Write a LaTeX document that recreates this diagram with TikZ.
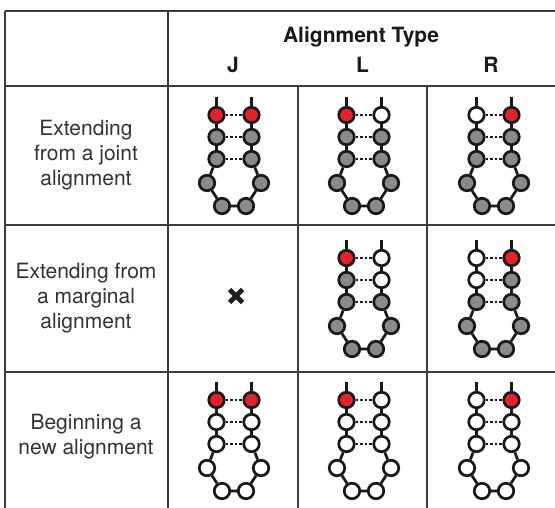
\documentclass[tikz,border=0pt]{standalone}
\usepackage{fontspec}
\setmainfont{TeX Gyre Heros}

\definecolor{pinRed}{HTML}{E4222B}
\definecolor{pinGray}{HTML}{8A8A8A}
\definecolor{ruleGray}{HTML}{3C3C3C}
\definecolor{labelGray}{HTML}{333333}

\tikzset{
	nuc/.style={circle, draw=black!90, line width=2.7pt, minimum size=15.5pt, inner sep=0pt},
	nucRed/.style={nuc, fill=pinRed},
	nucGray/.style={nuc, fill=pinGray},
	nucWhite/.style={nuc, fill=white},
	bond/.style={line width=2.7pt, draw=black!90},
	pairline/.style={line width=2.4pt, draw=black!90, dash pattern=on 2.6pt off 2pt},
	rule/.style={line width=1.8pt, draw=ruleGray},
	crossline/.style={line width=4.6pt, draw=black!88},
	rowlabel/.style={align=center, text=labelGray, font=\fontsize{21}{25}\selectfont},
	colhead/.style={anchor=base, text=black!90, font=\bfseries\fontsize{21}{25}\selectfont}
}

% one hairpin: name, x, top y, top pair, second pair, rest
\newcommand{\hairpin}[8]{%
	\node[#4](#1l1) at (#2-17.5,#3){};
	\node[#5](#1r1) at (#2+17.5,#3){};
	\node[#6](#1l2) at (#2-17.5,#3+22){};
	\node[#7](#1r2) at (#2+17.5,#3+22){};
	\node[#8](#1l3) at (#2-17.5,#3+44){};
	\node[#8](#1r3) at (#2+17.5,#3+44){};
	\node[#8](#1lo) at (#2-27,#3+68){};
	\node[#8](#1ro) at (#2+27,#3+68){};
	\node[#8](#1lb) at (#2-12,#3+91){};
	\node[#8](#1rb) at (#2+12,#3+91){};
	\coordinate (#1lt) at (#2-17.5,#3-18);
	\coordinate (#1rt) at (#2+17.5,#3-18);
	\draw[bond] (#1lt) -- (#1l1);
	\draw[bond] (#1rt) -- (#1r1);
	\draw[bond] (#1l1) -- (#1l2) -- (#1l3) -- (#1lo) -- (#1lb) -- (#1rb) -- (#1ro) -- (#1r3) -- (#1r2) -- (#1r1);
	\draw[pairline] (#1l1) -- (#1r1);
	\draw[pairline] (#1l2) -- (#1r2);
	\draw[pairline] (#1l3) -- (#1r3);
}

\begin{document}
\begin{tikzpicture}[x=1pt, y=-1pt]
	\useasboundingbox (0,0) rectangle (555,508);

	% table rules
	\draw[rule] (5,11) -- (555,11);
	\draw[rule] (5,11) -- (5,508);
	\draw[rule] (168,11) -- (168,508);
	\draw[rule] (5,86) -- (555,86);
	\draw[rule] (5,225) -- (555,225);
	\draw[rule] (5,372) -- (555,372);
	\draw[rule] (298,86) -- (298,508);
	\draw[rule] (427,86) -- (427,508);

	% headers
	\node[colhead](title) at (361,42.5){Alignment Type};
	\node[colhead](typeJ) at (233,72.7){J};
	\node[colhead](typeL) at (362.5,72.7){L};
	\node[colhead](typeR) at (491,72.7){R};

	\node[rowlabel](joint) at (86,155){Extending\\from a joint\\alignment};
	\node[rowlabel](marginal) at (86,298){Extending from\\a marginal\\alignment};
	\node[rowlabel](newAlign) at (86,437){Beginning a\\new alignment};

	% extending from a joint alignment
	\hairpin{jointJ}{234}{115}{nucRed}{nucRed}{nucGray}{nucGray}{nucGray}
	\hairpin{jointL}{364}{115}{nucRed}{nucWhite}{nucGray}{nucGray}{nucGray}
	\hairpin{jointR}{494}{115}{nucWhite}{nucRed}{nucGray}{nucGray}{nucGray}

	% extending from a marginal alignment
	\coordinate (noJ) at (236,296);
	\draw[crossline] (noJ) ++(-6.5,-6.5) -- ++(13,13) (noJ) ++(-6.5,6.5) -- ++(13,-13);
	\hairpin{margL}{364}{258}{nucRed}{nucWhite}{nucGray}{nucWhite}{nucGray}
	\hairpin{margR}{494}{258}{nucWhite}{nucRed}{nucWhite}{nucGray}{nucGray}

	% beginning a new alignment
	\hairpin{newJ}{234}{400}{nucRed}{nucRed}{nucWhite}{nucWhite}{nucWhite}
	\hairpin{newL}{364}{400}{nucRed}{nucWhite}{nucWhite}{nucWhite}{nucWhite}
	\hairpin{newR}{494}{400}{nucWhite}{nucRed}{nucWhite}{nucWhite}{nucWhite}

\end{tikzpicture}
\end{document}
